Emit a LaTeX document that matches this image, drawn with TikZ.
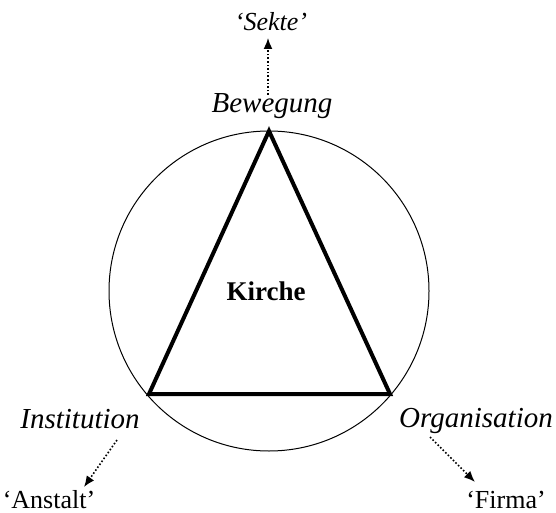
\documentclass[tikz,border=0pt]{standalone}
\usepackage{fontspec}
\setmainfont{Liberation Serif}
\usetikzlibrary{arrows.meta}
\tikzset{
  kante/.style={line width=2pt, line join=miter},
  ring/.style={line width=0.5pt},
  pfeil/.style={line width=0.8pt, densely dotted, -{Latex[length=5.5pt,width=4.5pt]}},
  pol/.style={anchor=base, inner sep=0pt, font=\fontsize{14.5}{16}\selectfont\itshape},
  typ/.style={anchor=base, inner sep=0pt, font=\fontsize{13}{15}\selectfont}
}

\begin{document}
\begin{tikzpicture}[x=0.5pt, y=-0.5pt]
  \useasboundingbox (0,0) rectangle (556,513);
  % triangle corners and circle
  \coordinate (B) at (269,131);
  \coordinate (I) at (149,394);
  \coordinate (O) at (390,394);
  \coordinate (M) at (269,291);
  \draw[ring] (M) circle[radius=160];
  \draw[kante] (B) -- (I) -- (O) -- cycle;
  % labels
  \node[typ, font=\fontsize{13.5}{15}\selectfont\bfseries] (kirche) at (266,300) {Kirche};
  \node[pol] (bewegung) at (272,113) {Bewegung};
  \node[pol] (institution) at (80,428) {Institution};
  \node[pol] (organisation) at (476,427) {Organisation};
  \node[pol, font=\fontsize{13}{15}\selectfont\itshape] (sekte) at (271,31) {‘Sekte’};
  \node[typ] (anstalt) at (49,508) {‘Anstalt’};
  \node[typ] (firma) at (506,508) {‘Firma’};
  % dotted arrows
  \coordinate (bw) at (268,95);
  \coordinate (sk) at (268,38);
  \coordinate (in) at (117,440);
  \coordinate (an) at (84,487);
  \coordinate (og) at (430,437);
  \coordinate (fi) at (475,482);
  \draw[pfeil] (bw) -- (sk);
  \draw[pfeil] (in) -- (an);
  \draw[pfeil] (og) -- (fi);
\end{tikzpicture}
\end{document}
